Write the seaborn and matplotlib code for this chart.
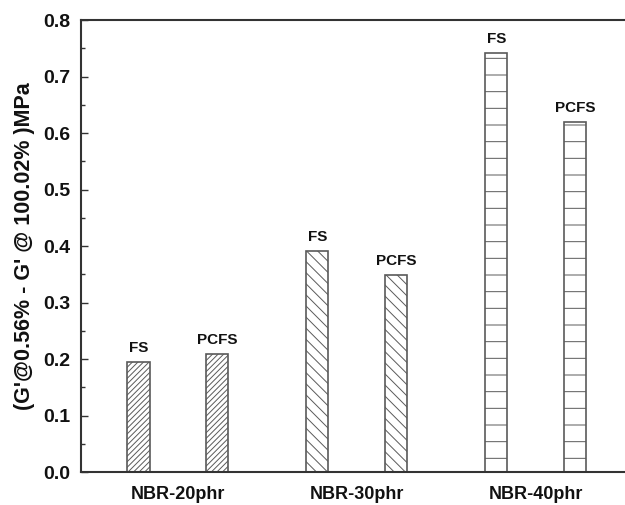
import matplotlib
matplotlib.use("Agg")
import matplotlib.pyplot as plt
from matplotlib.ticker import MultipleLocator, FormatStrFormatter
import seaborn as sns
import pandas as pd

groups = ["NBR-20phr", "NBR-30phr", "NBR-40phr"]
samples = ["FS", "PCFS"]
fs_values = [0.195, 0.392, 0.742]
pcfs_values = [0.210, 0.349, 0.620]
group_hatches = ["//////", "\\\\\\", "-"]

sns.set_theme(style="white")
plt.rcParams["font.family"] = ["Liberation Sans", "DejaVu Sans"]
plt.rcParams["hatch.linewidth"] = 0.7
plt.rcParams["hatch.color"] = "#8f8f8f"

df = pd.DataFrame({
    "group": groups * 2,
    "sample": ["FS"] * 3 + ["PCFS"] * 3,
    "value": fs_values + pcfs_values,
})

fig = plt.figure(figsize=(6.25, 5.05), dpi=100)
ax = fig.add_axes([0.13, 0.065, 0.87, 0.895])

sns.barplot(data=df, x="group", y="value", hue="sample", order=groups,
            hue_order=samples, width=0.88, gap=0.72,
            palette=["white", "white"], edgecolor="#5a5a5a", linewidth=1.2,
            legend=False, ax=ax)

# hatch by group, label each bar with its sample name
for container, name in zip(ax.containers, samples):
    for i, bar in enumerate(container):
        bar.set_hatch(group_hatches[i])
        bar.set_edgecolor("#5a5a5a")
        ax.annotate(name, (bar.get_x() + bar.get_width() / 2, bar.get_height()),
                    xytext=(0, 5), textcoords="offset points", ha="center",
                    va="bottom", fontsize=11, fontweight="bold", color="#111111")

ax.set_xlim(-0.54, 2.5)
ax.set_ylim(0, 0.8)
ax.yaxis.set_major_locator(MultipleLocator(0.1))
ax.yaxis.set_minor_locator(MultipleLocator(0.05))
ax.yaxis.set_major_formatter(FormatStrFormatter("%.1f"))
ax.tick_params(axis="y", which="major", direction="in", length=5, width=1,
               color="#333333", left=True, labelsize=14, pad=8)
ax.tick_params(axis="y", which="minor", direction="in", length=3, width=1,
               color="#333333", left=True)
ax.tick_params(axis="x", length=0, labelsize=13, pad=10)
for lab in ax.get_xticklabels() + ax.get_yticklabels():
    lab.set_fontweight("bold")
    lab.set_color("#111111")

ax.set_xlabel("")
ax.set_ylabel("(G'@0.56% - G' @ 100.02% )MPa", fontsize=15.5, fontweight="bold",
              color="#111111", labelpad=6)

for side in ["left", "bottom", "top"]:
    ax.spines[side].set_visible(True)
    ax.spines[side].set_color("#333333")
    ax.spines[side].set_linewidth(1.5)
ax.spines["right"].set_visible(False)

fig.savefig("out.png", dpi=100)
